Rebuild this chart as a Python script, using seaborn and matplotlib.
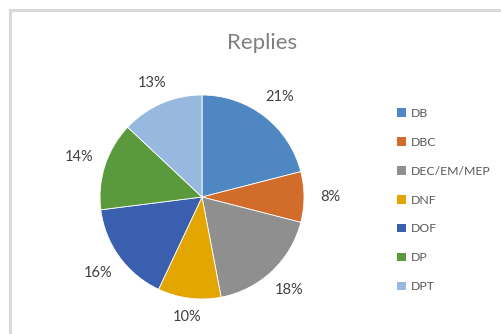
import matplotlib
matplotlib.use("Agg")
import numpy as np
import matplotlib.pyplot as plt
from matplotlib.patches import Patch, Rectangle
import seaborn as sns

# data
categories = ['DB', 'DBC', 'DEC/EM/MEP', 'DNF', 'DOF', 'DP', 'DPT']
shares = [21, 8, 18, 10, 16, 14, 13]
colors = ['#4F87C2', '#D26C2A', '#8F8F8F', '#E3A600', '#3A5FAF', '#5A9A3C', '#97B8DF']

sns.set_theme(style="white")
plt.rcParams['font.family'] = ['Lato', 'DejaVu Sans']

W, H = 502, 334
fig = plt.figure(figsize=(W / 100, H / 100), dpi=100)

# chart border (Excel-style frame)
fig.patches.append(Rectangle((10.5 / W, -0.05), 1.1, (H - 10) / H + 0.05,
                             transform=fig.transFigure, fill=False,
                             edgecolor='#d9d9d9', linewidth=2.2))

# pie axes: center (202,197), radius 102 px
cx, cy, r = 202, 197, 102
ax = fig.add_axes([(cx - r) / W, (H - cy - r) / H, 2 * r / W, 2 * r / H])
wedges, _ = ax.pie(shares, colors=colors, startangle=90, counterclock=False,
                   wedgeprops=dict(edgecolor='white', linewidth=0.6))

# "outside end" labels: box edge a fixed gap away from the rim
gap, hw, hh = 0.12, 0.14, 0.05
for w, v in zip(wedges, shares):
    ang = np.deg2rad((w.theta1 + w.theta2) / 2)
    c, s = np.cos(ang), np.sin(ang)
    d = 1 + gap + hw * abs(c) + hh * abs(s)
    ax.text(d * c, d * s, f'{v}%', ha='center', va='center',
            fontsize=10.5, color='#404040')

ax.set_xlim(-1, 1)
ax.set_ylim(-1, 1)
ax.set_aspect('equal')
ax.axis('off')

fig.text(262 / W, 1 - 43 / H, 'Replies', ha='center', va='center',
         fontsize=16, color='#7f7f7f')

handles = [Patch(facecolor=c, edgecolor='none') for c in colors]
fig.legend(handles, categories, loc='upper left', bbox_to_anchor=(397 / W, 1 - 108 / H),
           frameon=False, fontsize=8.8, labelcolor='#595959', handlelength=0.7,
           handleheight=0.7, handletextpad=0.4, labelspacing=1.46, borderpad=0,
           borderaxespad=0)

fig.savefig('out.png', dpi=100, facecolor='white')
